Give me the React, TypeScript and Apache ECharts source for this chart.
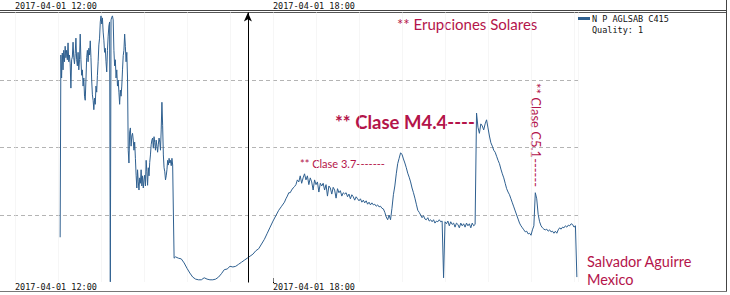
import React, { useEffect, useRef } from "react";
import * as echarts from "echarts";

// Time in minutes after 2017-04-01 12:00; level = decades above the chart floor
const seriesName = "N P AGLSAB C415";
const qualityText = "Quality: 1";

const burstStart = 63; // 1-minute cadence
const burstStep = 1;
const burstLevels = [
  0.67, 3.37, 3.03, 3.40, 3.15, 3.44, 3.27, 3.50, 3.33, 3.44,
  3.30, 3.55, 3.27, 3.37, 3.24, 2.88, 3.30, 3.34, 3.56, 3.33,
  3.24, 3.39, 3.62, 3.30, 3.21, 3.41, 3.15, 3.30, 3.68, 3.30,
  3.07, 3.15, 2.91, 3.03, 2.76, 2.70, 3.00, 3.33, 3.44, 3.27,
  3.47, 3.37, 3.58, 3.33, 3.00, 2.78, 2.70, 2.56, 2.73, 2.64,
  2.91, 2.82, 3.07, 3.27, 3.52, 3.62, 3.86, 3.95, 3.83, 3.92,
  3.71, 3.59, 3.41, 3.47, 3.27, 3.12, 3.44, 3.65, 3.80, 3.86,
  0.01, 3.89, 3.93, 3.95, 3.89, 3.44, 3.21, 3.30, 3.03, 3.15,
  2.91, 3.00, 2.82, 2.64, 2.85, 2.76, 2.91, 3.15, 3.36, 3.44,
  3.68, 3.50, 3.27, 3.41, 3.03, 1.96, 1.77, 2.23, 2.29, 2.02,
  2.17, 2.21, 2.11, 1.96, 2.08, 1.84, 1.59, 1.40, 1.67, 1.49,
  1.37, 1.55, 1.47, 1.67, 1.43, 1.58, 1.40, 1.52, 1.59, 1.43,
  1.81, 1.64, 1.44, 1.70, 1.58, 1.78, 1.89, 2.04, 2.11, 2.14,
  1.99, 2.16, 2.07, 1.96, 2.11, 2.02, 1.93, 2.05, 2.14, 2.08,
  1.96, 2.26, 2.67, 2.33, 1.89, 1.70, 1.64, 1.52, 1.58, 1.67,
  1.81, 1.74, 1.84, 1.77, 1.81, 1.73, 1.84, 1.74, 1.03, 0.36,
];

const quietStart = 224; // 4-minute cadence
const quietStep = 4;
const quietLevels = [
  0.38, 0.36, 0.35, 0.29, 0.21, 0.14, 0.08, 0.05, 0.04, 0.04,
  0.07, 0.05, 0.04, 0.04, 0.05, 0.08, 0.13, 0.19, 0.20, 0.24,
  0.23, 0.24, 0.27, 0.30, 0.33, 0.36, 0.39, 0.42, 0.47, 0.50,
  0.57, 0.64, 0.73, 0.82, 0.91, 0.99, 1.07, 1.13, 1.19,
];

const flareStart = 378; // 2-minute cadence
const flareStep = 2;
const flareLevels = [
  1.24, 1.28, 1.33, 1.33, 1.37, 1.40, 1.42, 1.45, 1.52, 1.49,
  1.58, 1.47, 1.55, 1.61, 1.52, 1.58, 1.45, 1.55, 1.49, 1.37,
  1.52, 1.45, 1.49, 1.34, 1.47, 1.43, 1.47, 1.37, 1.45, 1.28,
  1.43, 1.40, 1.31, 1.41, 1.37, 1.25, 1.39, 1.33, 1.36, 1.28,
  1.33, 1.31, 1.33, 1.27, 1.31, 1.24, 1.30, 1.27, 1.22, 1.27,
  1.24, 1.21, 1.24, 1.19, 1.22, 1.18, 1.21, 1.16, 1.19, 1.15,
  1.18, 1.15, 1.16, 1.13, 1.15, 1.12, 1.13, 1.10, 1.09, 1.04,
  0.97, 0.93, 1.00, 0.93, 1.10, 1.30, 1.43, 1.61, 1.76, 1.84,
  1.92, 1.90, 1.83, 1.77, 1.70, 1.62, 1.56, 1.49, 1.40, 1.33,
  1.25, 1.16, 1.07, 1.04, 1.00, 0.96, 0.99, 0.94, 0.93, 0.96,
  0.91, 0.93, 0.90, 0.93, 0.88, 0.91, 0.90, 0.93, 0.90, 0.91,
  0.07, 0.90, 0.87, 0.91, 0.84, 0.90, 0.86, 0.88, 0.82, 0.88,
  0.86, 0.81, 0.88, 0.84, 0.87, 0.82, 0.88, 0.84, 0.87, 0.81,
  0.88, 0.84, 0.86, 2.51, 2.30, 2.21, 2.35, 2.32, 2.26, 2.35,
  2.41, 2.29, 2.17, 2.07, 2.02, 1.96, 1.93, 1.87, 1.81, 1.76,
  1.68, 1.61, 1.55, 1.47, 1.39, 1.34, 1.30, 1.24, 1.18, 1.12,
  1.06, 1.00, 0.94, 0.88, 0.84, 0.81, 0.78, 0.75, 0.76, 0.72,
  0.73, 0.70, 0.78, 0.84, 1.33, 1.24, 1.01, 0.90, 0.84, 0.81,
  0.79, 0.78, 0.79, 0.76, 0.78, 0.75, 0.76, 0.73, 0.76, 0.73,
  0.78, 0.81, 0.79, 0.82, 0.81, 0.84, 0.82, 0.85, 0.84, 0.87,
  0.86, 0.82, 0.84, 0.08,
];

const tickLabels: Record<number, string> = {
  0: "2017-04-01 12:00",
  360: "2017-04-01 18:00",
};
const arrowTime = 325;

const annotationColor = "#B4144A";
const lineColor = "#2F6090";

function buildSegment(start: number, step: number, levels: number[]) {
  return levels.map((v, i) => [start + i * step, v]);
}

export default function App() {
  const ref = useRef<HTMLDivElement>(null);
  useEffect(() => {
    if (!ref.current) return;
    const chart = echarts.init(ref.current, undefined, { renderer: "svg" });
    const data = [
      ...buildSegment(burstStart, burstStep, burstLevels),
      ...buildSegment(quietStart, quietStep, quietLevels),
      ...buildSegment(flareStart, flareStep, flareLevels),
    ];
    const mono = "DejaVu Sans Mono";
    const fmt = (v: number) => tickLabels[v] ?? "";
    chart.setOption({
      animation: false,
      backgroundColor: "#ffffff",
      grid: {
        left: -28,
        width: 606.3,
        top: 12.5,
        bottom: 12.5,
        containLabel: false,
        outerBoundsMode: "none",
      },
      legend: {
        left: 578,
        top: 14,
        padding: 0,
        icon: "rect",
        itemWidth: 12,
        itemHeight: 3,
        data: [seriesName],
        textStyle: { fontSize: 8.5, fontFamily: mono, color: "#111", padding: [0, 0, 0, -3] },
      },
      xAxis: [
        {
          type: "value",
          position: "bottom",
          min: -60,
          max: 786,
          interval: 60,
          axisLine: { show: false },
          axisTick: { show: false },
          axisLabel: { formatter: fmt, align: "left", margin: 0, fontSize: 8.5, fontFamily: mono, color: "#111" },
          splitLine: { show: true, lineStyle: { color: "#ececec", type: "dotted", width: 1 } },
        },
        {
          type: "value",
          position: "top",
          min: -60,
          max: 786,
          interval: 60,
          axisLine: { show: false },
          axisTick: { show: false },
          axisLabel: { formatter: fmt, align: "left", margin: 2, fontSize: 8.5, fontFamily: mono, color: "#111" },
          splitLine: { show: false },
        },
      ],
      yAxis: {
        type: "value",
        min: 0,
        max: 4,
        interval: 1,
        axisLine: { show: false },
        axisTick: { show: false },
        axisLabel: { show: false },
        splitLine: {
          show: true,
          lineStyle: {
            color: ["rgba(0,0,0,0)", "#b4b4b4", "#b4b4b4", "#b4b4b4", "rgba(0,0,0,0)"],
            type: [4, 3],
            width: 1,
          },
        },
      },
      series: [
        {
          name: seriesName,
          type: "line",
          xAxisIndex: 0,
          data,
          showSymbol: false,
          symbol: "none",
          lineStyle: { color: lineColor, width: 1 },
          itemStyle: { color: lineColor },
          silent: true,
          markLine: {
            silent: true,
            symbol: ["none", "arrow"],
            symbolSize: [6, 9],
            label: { show: false },
            lineStyle: { color: "#000", width: 1, type: "solid" },
            data: [{ xAxis: arrowTime }],
          },
        },
      ],
      graphic: [
        { type: "line", shape: { x1: 0, y1: 10.5, x2: 727, y2: 10.5 }, style: { stroke: "#444", lineWidth: 1 } },
        { type: "line", shape: { x1: 0, y1: 12.5, x2: 727, y2: 12.5 }, style: { stroke: "#555", lineWidth: 1 } },
        { type: "line", shape: { x1: 726.5, y1: 0, x2: 726.5, y2: 292 }, style: { stroke: "#444", lineWidth: 1 } },
        { type: "line", shape: { x1: 0, y1: 291.5, x2: 727, y2: 291.5 }, style: { stroke: "#777", lineWidth: 1 } },
        { type: "line", shape: { x1: 273.5, y1: 278, x2: 273.5, y2: 283 }, style: { stroke: "#000", lineWidth: 1 } },
        {
          type: "text",
          x: 592,
          y: 30,
          style: { text: qualityText, fontSize: 8.5, fontFamily: mono, fill: "#111", textVerticalAlign: "middle" },
        },
        {
          type: "text",
          x: 397,
          y: 23.5,
          style: { text: "** Erupciones Solares", fontSize: 15, fontFamily: "Lato", fill: annotationColor, textVerticalAlign: "middle" },
        },
        {
          type: "text",
          x: 335,
          y: 121.5,
          style: { text: "** Clase M4.4----", fontSize: 18.5, fontWeight: "bold", fontFamily: "Lato", fill: annotationColor, textVerticalAlign: "middle" },
        },
        {
          type: "text",
          x: 300,
          y: 163.5,
          style: { text: "** Clase 3.7-------", fontSize: 11, fontFamily: "Lato", fill: annotationColor, textVerticalAlign: "middle" },
        },
        {
          type: "text",
          x: 536,
          y: 135,
          rotation: -Math.PI / 2,
          style: { text: "** Clase C5.1------", fontSize: 13, fontFamily: "Lato", fill: annotationColor, textAlign: "center", textVerticalAlign: "middle" },
        },
        {
          type: "text",
          x: 587,
          y: 261,
          style: { text: "Salvador Aguirre", fontSize: 14.5, fontFamily: "Lato", fill: annotationColor, textVerticalAlign: "middle" },
        },
        {
          type: "text",
          x: 587,
          y: 279,
          style: { text: "Mexico", fontSize: 14.5, fontFamily: "Lato", fill: annotationColor, textVerticalAlign: "middle" },
        },
      ],
    });
    return () => chart.dispose();
  }, []);
  return (
    <div
      ref={ref}
      style={{ position: "absolute", left: 0, top: 0, width: 730, height: 295, background: "#fff" }}
    />
  );
}
